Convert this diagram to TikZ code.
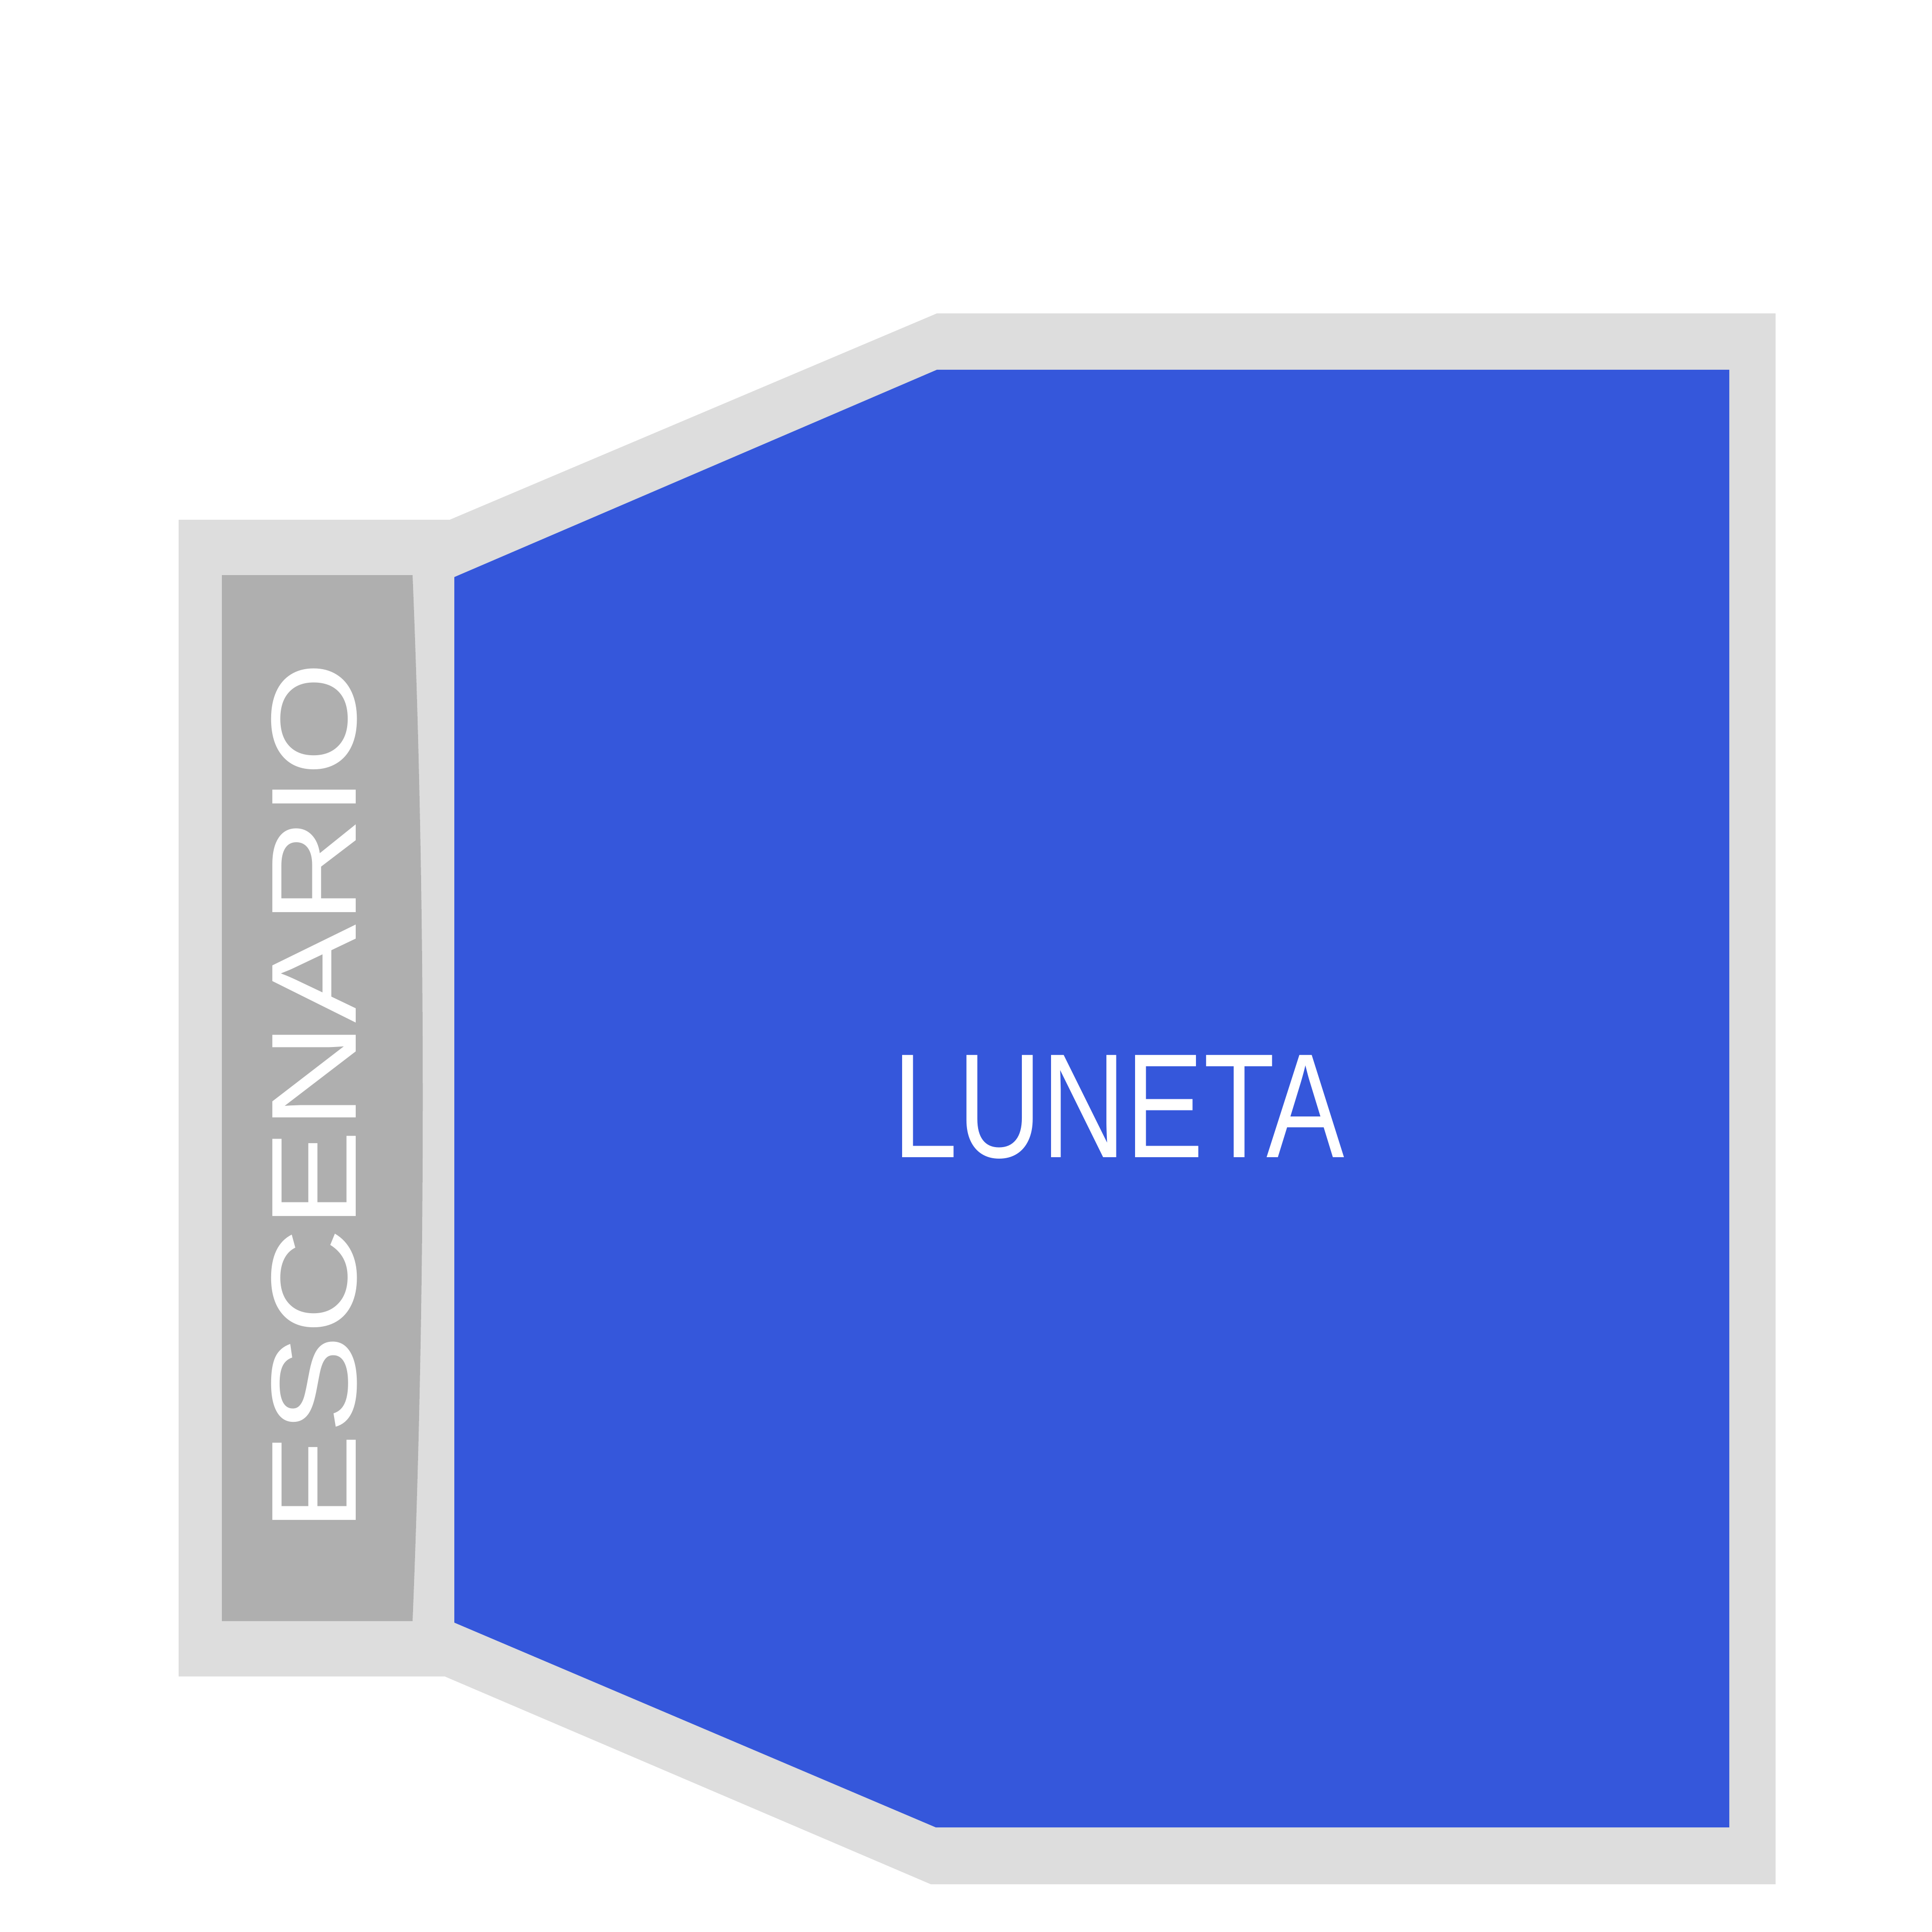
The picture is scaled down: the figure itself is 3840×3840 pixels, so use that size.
\documentclass[tikz,border=0pt]{standalone}
\usepackage{fontspec}
\setmainfont{Liberation Sans}
\definecolor{framegray}{HTML}{DDDDDD}
\definecolor{stagegray}{HTML}{AFAFAF}
\definecolor{lunetablue}{HTML}{3557DB}
\begin{document}
\begin{tikzpicture}[x=0.01cm,y=-0.01cm,
  lbl/.style={text=white,inner sep=0pt,anchor=center}]
\fill[white] (0,0) rectangle (3840,3840);
\useasboundingbox (0,0) rectangle (3840,3840);
% outer frame
\fill[framegray] (355,1033) -- (894,1033) -- (1862,623) -- (3529,623)
  -- (3529,3745) -- (1850,3745) -- (884,3332) -- (355,3332) -- cycle;
% stage
\fill[stagegray] (441,1143) -- (820,1143)
  .. controls (847,1800) and (847,2560) .. (820,3222) -- (441,3222) -- cycle;
% luneta
\fill[lunetablue] (903,1147) -- (1862,735) -- (3437,735) -- (3437,3632)
  -- (1860,3632) -- (903,3225) -- cycle;
\node[lbl] (luneta) at (2223,2200)
  {\scalebox{0.785}[1]{\fontsize{84}{90}\selectfont LUNETA}};
\node[lbl,rotate=90] (escenario) at (625,2180)
  {\scalebox{1.22}[1]{\fontsize{68.5}{72}\selectfont ESCENARIO}};
\end{tikzpicture}
\end{document}
